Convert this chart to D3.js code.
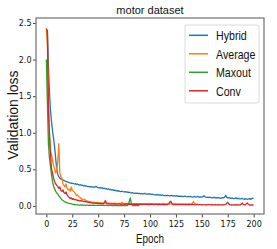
<!DOCTYPE html>
<html>
<head>
<meta charset="utf-8">
<script src="https://cdn.jsdelivr.net/npm/d3@7"></script>
<style>
  body { margin: 0; background: #fff; }
  svg text { font-family: "Liberation Sans", Arial, sans-serif; }
  .axis text { font-family: "DejaVu Sans", sans-serif; font-size: 8px; fill: #111; }
  .axis path { display: none; }
  .axis line { stroke: #444; }
</style>
</head>
<body>
<script>
//series names and colours
var seriesNames = ["Hybrid", "Average", "Maxout", "Conv"];
var seriesColors = ["#1f77b4", "#ff7f0e", "#2ca02c", "#d62728"];

//tick values
var xTicks = [0, 25, 50, 75, 100, 125, 150, 175, 200];
var yTicks = [0.0, 0.5, 1.0, 1.5, 2.0, 2.5];

//validation loss per epoch (index = epoch)
var hybrid = [
  2.40, 2.40, 1.90, 1.55, 1.30, 1.15, 1.02, 0.92, 0.80, 0.65,
  0.50, 0.43, 0.40, 0.38, 0.37, 0.36, 0.355, 0.35, 0.34, 0.335,
  0.33, 0.325, 0.32, 0.315, 0.31, 0.31, 0.305, 0.30, 0.305, 0.295,
  0.30, 0.29, 0.285, 0.29, 0.28, 0.283, 0.275, 0.278, 0.27, 0.272,
  0.265, 0.268, 0.26, 0.263, 0.258, 0.262, 0.255, 0.26, 0.268, 0.255,
  0.25, 0.248, 0.252, 0.243, 0.247, 0.238, 0.242, 0.232, 0.236, 0.228,
  0.232, 0.222, 0.226, 0.218, 0.222, 0.212, 0.216, 0.207, 0.211, 0.203,
  0.207, 0.2, 0.197, 0.201, 0.195, 0.192, 0.196, 0.188, 0.192, 0.184,
  0.188, 0.182, 0.178, 0.182, 0.176, 0.172, 0.176, 0.171, 0.175, 0.168,
  0.172, 0.166, 0.17, 0.164, 0.168, 0.172, 0.166, 0.162, 0.166, 0.161,
  0.164, 0.16, 0.156, 0.16, 0.155, 0.151, 0.155, 0.15, 0.154, 0.147,
  0.151, 0.146, 0.15, 0.145, 0.141, 0.145, 0.14, 0.144, 0.14, 0.136,
  0.14, 0.144, 0.136, 0.14, 0.139, 0.135, 0.14, 0.131, 0.135, 0.13,
  0.134, 0.13, 0.126, 0.13, 0.134, 0.129, 0.125, 0.13, 0.126, 0.13,
  0.125, 0.121, 0.125, 0.13, 0.121, 0.125, 0.13, 0.125, 0.12, 0.125,
  0.12, 0.125, 0.14, 0.125, 0.12, 0.116, 0.12, 0.115, 0.12, 0.115,
  0.11, 0.115, 0.12, 0.11, 0.115, 0.11, 0.115, 0.11, 0.105, 0.11,
  0.115, 0.11, 0.12, 0.145, 0.12, 0.11, 0.115, 0.11, 0.105, 0.11,
  0.105, 0.1, 0.105, 0.11, 0.1, 0.105, 0.1, 0.095, 0.1, 0.105,
  0.095, 0.09, 0.1, 0.095, 0.09, 0.095, 0.1, 0.09, 0.1, 0.105, 0.108
];

var average = [
  2.43, 2.20, 1.50, 1.00, 0.75, 0.70, 0.62, 0.55, 0.50, 0.45,
  0.50, 0.60, 0.85, 0.45, 0.40, 0.38, 0.30, 0.28, 0.26, 0.30,
  0.24, 0.22, 0.23, 0.20, 0.26, 0.21, 0.20, 0.19, 0.17, 0.14,
  0.15, 0.13, 0.12, 0.11, 0.10, 0.09, 0.085, 0.09, 0.075, 0.07,
  0.065, 0.06, 0.058, 0.055, 0.05, 0.052, 0.048, 0.05, 0.045, 0.048,
  0.044, 0.045, 0.042, 0.044, 0.04, 0.043, 0.04, 0.042, 0.038, 0.04,
  0.038, 0.04, 0.036, 0.039, 0.035, 0.038, 0.034, 0.037, 0.035, 0.033,
  0.036, 0.034, 0.035, 0.05, 0.034, 0.033, 0.035, 0.032, 0.034, 0.031,
  0.033, 0.032, 0.034, 0.03, 0.033, 0.031, 0.032, 0.03, 0.033, 0.029,
  0.031, 0.03, 0.032, 0.029, 0.031, 0.028, 0.03, 0.029, 0.031, 0.028,
  0.03, 0.028, 0.031, 0.027, 0.029, 0.028, 0.03, 0.027, 0.028, 0.03,
  0.027, 0.029, 0.027, 0.03, 0.028, 0.029, 0.026, 0.028, 0.027, 0.026,
  0.029, 0.027, 0.028, 0.026, 0.029, 0.027, 0.025, 0.028, 0.026, 0.027,
  0.025, 0.028, 0.026, 0.025, 0.027, 0.025, 0.026, 0.029, 0.027, 0.025,
  0.028, 0.04, 0.06, 0.03, 0.027, 0.026
];

var maxout = [
  2.00, 1.40, 0.85, 0.65, 0.54, 0.42, 0.33, 0.27, 0.23, 0.20,
  0.18, 0.16, 0.14, 0.12, 0.10, 0.085, 0.075, 0.065, 0.055, 0.05,
  0.045, 0.04, 0.036, 0.032, 0.03, 0.025, 0.022, 0.02, 0.018, 0.016,
  0.014, 0.016, 0.012, 0.014, 0.011, 0.013, 0.01, 0.012, 0.009, 0.011,
  0.01, 0.008, 0.011, 0.009, 0.01, 0.008, 0.01, 0.007, 0.009, 0.008,
  0.01, 0.007, 0.009, 0.008, 0.007, 0.009, 0.006, 0.008, 0.007, 0.009,
  0.006, 0.008, 0.007, 0.006, 0.008, 0.006, 0.007, 0.005, 0.007, 0.006,
  0.008, 0.006, 0.005, 0.007, 0.006, 0.005, 0.007, 0.006, 0.006, 0.02,
  0.06, 0.11, 0.03, 0.006, 0.005, 0.007, 0.005, 0.006, 0.004, 0.006,
  0.005
];

var conv = [
  2.42, 2.38, 1.30, 0.95, 0.70, 0.50, 0.45, 0.38, 0.33, 0.30,
  0.28, 0.27, 0.24, 0.26, 0.21, 0.20, 0.22, 0.18, 0.17, 0.19,
  0.15, 0.13, 0.12, 0.10, 0.11, 0.09, 0.10, 0.085, 0.09, 0.08,
  0.078, 0.075, 0.07, 0.072, 0.065, 0.068, 0.06, 0.062, 0.055, 0.058,
  0.05, 0.048, 0.045, 0.047, 0.04, 0.043, 0.038, 0.04, 0.035, 0.037,
  0.034, 0.032, 0.035, 0.03, 0.033, 0.03, 0.045, 0.075, 0.032, 0.028,
  0.03, 0.028, 0.025, 0.03, 0.027, 0.025, 0.028, 0.024, 0.026, 0.025,
  0.03, 0.024, 0.022, 0.026, 0.024, 0.025, 0.022, 0.028, 0.024, 0.023,
  0.025, 0.022, 0.024, 0.02, 0.026, 0.022, 0.02, 0.024, 0.022, 0.02,
  0.025, 0.022, 0.02, 0.024, 0.021, 0.02, 0.023, 0.02, 0.022, 0.02,
  0.022, 0.02, 0.024, 0.019, 0.021, 0.02, 0.023, 0.018, 0.02, 0.022,
  0.019, 0.02, 0.018, 0.021, 0.02, 0.019, 0.022, 0.02, 0.03, 0.05,
  0.065, 0.035, 0.018, 0.021, 0.019, 0.02, 0.018, 0.022, 0.019, 0.017,
  0.02, 0.018, 0.021, 0.017, 0.019, 0.02, 0.018, 0.016, 0.02, 0.018,
  0.017, 0.02, 0.018, 0.016, 0.019, 0.017, 0.02, 0.016, 0.018, 0.017,
  0.015, 0.019, 0.017, 0.016, 0.018, 0.015, 0.017, 0.019, 0.016, 0.015,
  0.018, 0.016, 0.015, 0.017, 0.016, 0.014, 0.018, 0.015, 0.016, 0.014,
  0.017, 0.015, 0.017, 0.02, 0.035, 0.05, 0.03, 0.016, 0.015, 0.013,
  0.016, 0.014, 0.013, 0.017, 0.015, 0.013, 0.016, 0.014, 0.025, 0.04,
  0.02, 0.014, 0.015, 0.03, 0.04, 0.02, 0.013, 0.012, 0.015, 0.013, 0.01
];

var seriesValues = [hybrid, average, maxout, conv];

window.onload = function(){

    var w = 277, h = 249;
    var left = 36, right = 264, top = 18, bottom = 214;

    var svg = d3.select("body")
        .append("svg")
        .attr("width", w)
        .attr("height", h);

    //scales with matplotlib style margins
    var x = d3.scaleLinear()
        .domain([-10, 210])
        .range([left, right]);

    var y = d3.scaleLinear()
        .domain([-0.11, 2.568])
        .range([bottom, top]);

    //axes
    svg.append("g")
        .attr("class", "axis")
        .attr("transform", "translate(0," + bottom + ")")
        .call(d3.axisBottom(x).tickValues(xTicks).tickSize(3.5).tickPadding(3.5)
            .tickFormat(d3.format("d")));

    svg.append("g")
        .attr("class", "axis")
        .attr("transform", "translate(" + left + ",0)")
        .call(d3.axisLeft(y).tickValues(yTicks).tickSize(3).tickPadding(1.5)
            .tickFormat(d3.format(".1f")));

    //lines
    var line = d3.line()
        .x(function(d, i){ return x(i); })
        .y(function(d){ return y(d); });

    svg.selectAll(".series")
        .data(seriesValues)
        .enter()
        .append("path")
        .attr("class", "series")
        .attr("d", line)
        .attr("fill", "none")
        .attr("stroke", function(d, i){ return seriesColors[i]; })
        .attr("stroke-width", 1.3)
        .attr("stroke-linejoin", "round");

    //frame
    svg.append("rect")
        .attr("x", left)
        .attr("y", top)
        .attr("width", right - left)
        .attr("height", bottom - top)
        .attr("fill", "none")
        .attr("stroke", "#7a7a7a")
        .attr("stroke-width", 1.3);

    //title
    svg.append("text")
        .attr("x", (left + right) / 2)
        .attr("y", 14)
        .attr("text-anchor", "middle")
        .style("font-size", "11px")
        .style("fill", "#111")
        .text("motor dataset");

    //axis labels
    svg.append("text")
        .attr("transform", "translate(" + ((left + right) / 2) + ",243) scale(0.82,1)")
        .attr("text-anchor", "middle")
        .style("font-size", "12px")
        .style("fill", "#111")
        .text("Epoch");

    svg.append("text")
        .attr("transform", "translate(18,115) rotate(-90)")
        .attr("text-anchor", "middle")
        .style("font-size", "14px")
        .style("fill", "#111")
        .text("Validation loss");

    //legend
    var legend = svg.append("g").attr("class", "legend");

    legend.append("rect")
        .attr("x", 185)
        .attr("y", 25)
        .attr("width", 74)
        .attr("height", 78)
        .attr("rx", 2)
        .attr("fill", "#fff")
        .attr("stroke", "#d0d0d0")
        .attr("stroke-width", 0.8);

    var items = legend.selectAll(".item")
        .data(seriesNames)
        .enter()
        .append("g")
        .attr("class", "item")
        .attr("transform", function(d, i){ return "translate(0," + (35.3 + i * 18.5) + ")"; });

    items.append("line")
        .attr("x1", 189)
        .attr("x2", 208)
        .attr("stroke", function(d, i){ return seriesColors[i]; })
        .attr("stroke-width", 1.5);

    items.append("text")
        .attr("transform", "translate(216,4.7) scale(0.82,1)")
        .style("font-size", "13px")
        .style("fill", "#111")
        .text(function(d){ return d; });
};
</script>
</body>
</html>
